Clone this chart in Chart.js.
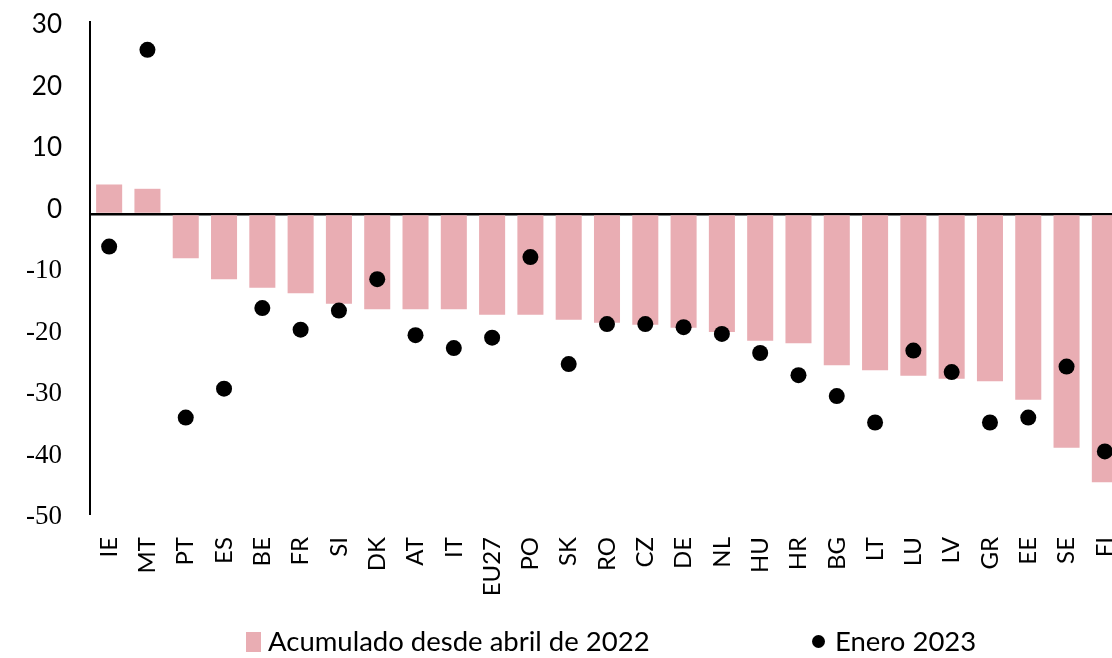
<!DOCTYPE html>
<html>
<head>
<meta charset="utf-8">
<script src="https://cdn.jsdelivr.net/npm/chart.js@4"></script>
<style>
  html, body { margin: 0; padding: 0; background: #fff; overflow: hidden; }
  #wrap { position: relative; width: 1112px; height: 658px; overflow: hidden; background: #fff; }
  #chart { position: absolute; left: 0; top: 0; }
  .lg-text { position: absolute; font-family: Lato, "Open Sans", sans-serif; font-size: 27.5px; line-height: 28px; color: #000; white-space: nowrap; }
  .lg-box { position: absolute; }
</style>
</head>
<body>
<div id="wrap">
  <canvas id="chart" width="1132" height="658"></canvas>
  <div id="legend"></div>
</div>
<script>
// Countries, ordered by the cumulative change
const categories = ['IE','MT','PT','ES','BE','FR','SI','DK','AT','IT','EU27','PO','SK','RO','CZ','DE','NL','HU','HR','BG','LT','LU','LV','GR','EE','SE','FI'];

// Cumulative change since April 2022 (bars)
const acumulado = [4.8, 4.1, -7.2, -10.6, -12.0, -12.9, -14.6, -15.5, -15.5, -15.5, -16.4, -16.4, -17.2, -17.7, -18.0, -18.5, -19.2, -20.6, -21.0, -24.6, -25.4, -26.3, -26.8, -27.2, -30.2, -38.0, -43.6];

// January 2023 (dots)
const enero2023 = [-5.3, 26.7, -33.1, -28.4, -15.3, -18.8, -15.7, -10.6, -19.7, -21.8, -20.1, -7.0, -24.4, -17.9, -17.9, -18.4, -19.5, -22.6, -26.2, -29.6, -33.9, -22.2, -25.7, -33.9, -33.1, -24.8, -38.6];

const yTicks = [-50, -40, -30, -20, -10, 0, 10, 20, 30];
const seriesNames = ['Acumulado desde abril de 2022', 'Enero 2023'];

const barColor = '#E9ADB3';
const dotColor = '#000000';

const chart = new Chart(document.getElementById('chart'), {
  data: {
    labels: categories,
    datasets: [
      {
        type: 'line',
        label: seriesNames[1],
        data: enero2023,
        showLine: false,
        pointRadius: 8,
        pointHoverRadius: 8,
        pointBackgroundColor: dotColor,
        pointBorderColor: dotColor,
        pointBorderWidth: 0,
        order: 0
      },
      {
        type: 'bar',
        label: seriesNames[0],
        data: acumulado,
        backgroundColor: barColor,
        borderWidth: 0,
        barPercentage: 0.68,
        categoryPercentage: 1.0,
        order: 1
      }
    ]
  },
  options: {
    responsive: false,
    animation: false,
    events: [],
    layout: { padding: { top: 22, left: 0, right: 0, bottom: 0 } },
    plugins: {
      legend: { display: false },
      tooltip: { enabled: false }
    },
    scales: {
      x: {
        type: 'category',
        offset: true,
        grid: { display: false, drawTicks: false },
        border: { display: false },
        ticks: {
          autoSkip: false,
          minRotation: 90,
          maxRotation: 90,
          padding: 22,
          color: '#000',
          font: { family: 'Lato', size: 24 }
        },
        afterFit: (s) => { s.height = 143; s.paddingLeft = 0; s.paddingRight = 0; }
      },
      y: {
        type: 'linear',
        min: -48.94,
        max: 31.22,
        z: 1,
        afterBuildTicks: (s) => { s.ticks = yTicks.map(v => ({ value: v })); },
        grid: {
          drawTicks: false,
          color: (c) => (c.tick && c.tick.value === 0 ? '#000' : 'rgba(0,0,0,0)'),
          lineWidth: (c) => (c.tick && c.tick.value === 0 ? 2.5 : 0)
        },
        border: { display: true, color: '#000', width: 2 },
        ticks: {
          autoSkip: false,
          padding: 28,
          labelOffset: -4.5,
          color: '#000',
          font: (c) => (c.tick && c.tick.value < 0
            ? { family: 'Liberation Serif', size: 27 }
            : { family: 'Lato', size: 26 })
        },
        afterFit: (s) => { s.width = 90; s.paddingTop = 0; s.paddingBottom = 0; }
      }
    }
  }
});

// HTML legend built from the dataset labels
(function buildLegend() {
  const lg = document.getElementById('legend');
  const bar = chart.data.datasets[1];
  const dot = chart.data.datasets[0];

  const box = document.createElement('div');
  box.className = 'lg-box';
  Object.assign(box.style, { left: '246px', top: '632px', width: '15px', height: '20px', background: bar.backgroundColor });
  lg.appendChild(box);

  const t1 = document.createElement('div');
  t1.className = 'lg-text';
  Object.assign(t1.style, { left: '268px', top: '627px' });
  t1.textContent = bar.label;
  lg.appendChild(t1);

  const circ = document.createElement('div');
  circ.className = 'lg-box';
  Object.assign(circ.style, { left: '812px', top: '635px', width: '13px', height: '13px', borderRadius: '50%', background: dot.pointBackgroundColor });
  lg.appendChild(circ);

  const t2 = document.createElement('div');
  t2.className = 'lg-text';
  Object.assign(t2.style, { left: '835px', top: '627px' });
  t2.textContent = dot.label;
  lg.appendChild(t2);
})();
</script>
</body>
</html>
